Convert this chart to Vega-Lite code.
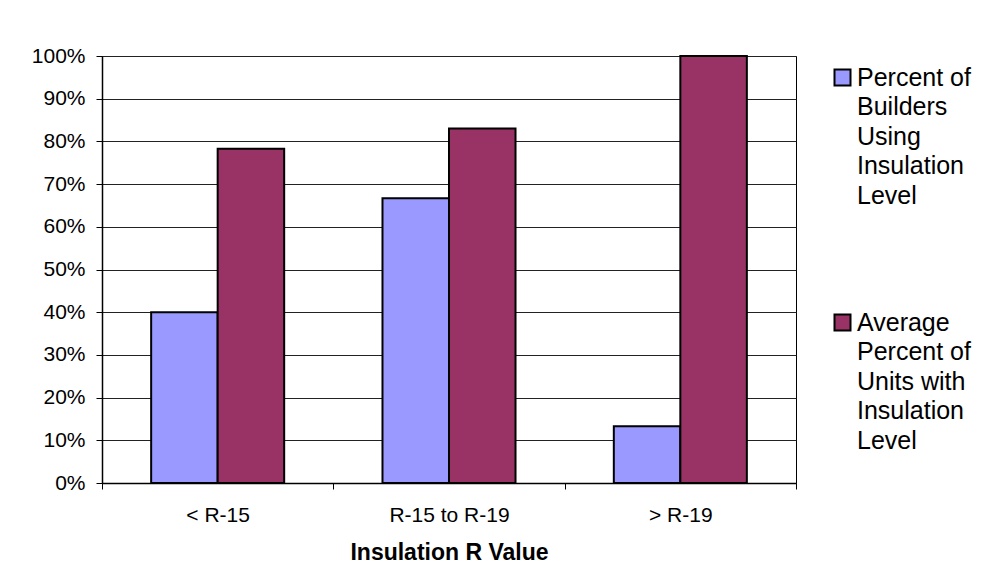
{
  "$schema": "https://vega.github.io/schema/vega-lite/v6.json",
  "autosize": {"type": "none"},
  "width": 694,
  "height": 427,
  "padding": {"left": 102, "top": 56, "right": 197, "bottom": 100},
  "background": "#ffffff",
  "data": {
    "values": [
      {"level": "< R-15", "series": "Percent of Builders Using Insulation Level", "value": 0.40},
      {"level": "< R-15", "series": "Average Percent of Units with Insulation Level", "value": 0.783},
      {"level": "R-15 to R-19", "series": "Percent of Builders Using Insulation Level", "value": 0.667},
      {"level": "R-15 to R-19", "series": "Average Percent of Units with Insulation Level", "value": 0.83},
      {"level": "> R-19", "series": "Percent of Builders Using Insulation Level", "value": 0.133},
      {"level": "> R-19", "series": "Average Percent of Units with Insulation Level", "value": 1.0}
    ]
  },
  "mark": {"type": "bar", "stroke": "#000000", "strokeWidth": 2},
  "encoding": {
    "x": {
      "field": "level",
      "type": "nominal",
      "sort": ["< R-15", "R-15 to R-19", "> R-19"],
      "scale": {"paddingInner": 0, "paddingOuter": 0},
      "axis": {
        "title": "Insulation R Value",
        "titleFont": "Liberation Sans",
        "titleFontSize": 23,
        "titleFontWeight": "bold",
        "titleColor": "#000000",
        "titlePadding": 16,
        "labelFont": "Liberation Sans",
        "labelFontSize": 21,
        "labelColor": "#000000",
        "labelAngle": 0,
        "labelPadding": 15,
        "tickBand": "extent",
        "tickSize": 6,
        "tickColor": "#000000",
        "domainColor": "#000000",
        "domainWidth": 1.5,
        "grid": false
      }
    },
    "xOffset": {
      "field": "series",
      "type": "nominal",
      "sort": ["Percent of Builders Using Insulation Level", "Average Percent of Units with Insulation Level"],
      "scale": {"paddingInner": 0, "paddingOuter": 0.739}
    },
    "y": {
      "field": "value",
      "type": "quantitative",
      "scale": {"domain": [0, 1], "nice": false},
      "axis": {
        "title": null,
        "format": ".0%",
        "values": [0, 0.1, 0.2, 0.3, 0.4, 0.5, 0.6, 0.7, 0.8, 0.9, 1],
        "labelFont": "Liberation Sans",
        "labelFontSize": 21,
        "labelColor": "#000000",
        "labelPadding": 11,
        "tickSize": 6,
        "tickColor": "#000000",
        "domainColor": "#000000",
        "domainWidth": 1.5,
        "grid": true,
        "gridColor": "#222222",
        "gridWidth": 1
      }
    },
    "color": {
      "field": "series",
      "type": "nominal",
      "sort": ["Percent of Builders Using Insulation Level", "Average Percent of Units with Insulation Level"],
      "scale": {"range": ["#9999FF", "#993366"]},
      "legend": {
        "title": null,
        "orient": "none",
        "legendX": 728,
        "legendY": 9,
        "symbolType": "square",
        "symbolSize": 256,
        "symbolStrokeColor": "#000000",
        "symbolStrokeWidth": 2,
        "symbolOpacity": 1,
        "labelFont": "Liberation Sans",
        "labelFontSize": 25,
        "labelColor": "#000000",
        "labelLimit": 300,
        "labelOffset": 2,
        "rowPadding": 101,
        "labelExpr": "datum.label == 'Percent of Builders Using Insulation Level' ? ['Percent of', 'Builders', 'Using', 'Insulation', 'Level'] : ['Average', 'Percent of', 'Units with', 'Insulation', 'Level']",
        "encode": {
          "labels": {"update": {"lineHeight": {"value": 29.5}}}
        }
      }
    }
  },
  "config": {
    "view": {"stroke": "#000000", "strokeWidth": 1}
  }
}
